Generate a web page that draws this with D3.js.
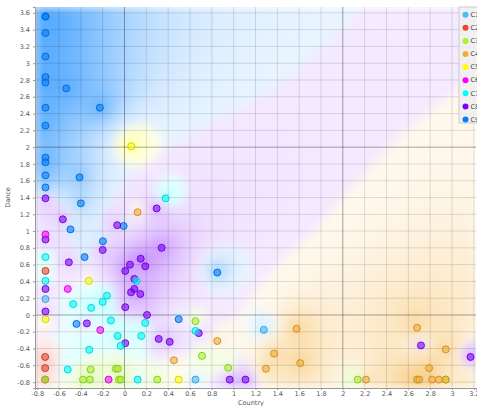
<!DOCTYPE html>
<html lang="en">
<head>
	<meta charset="utf-8">
	<title>Country vs Dance</title>
	<script src="https://d3js.org/d3.v7.min.js"></script>
	<style>
		body { margin: 0; background: #fff; }
		text { font-family: "DejaVu Sans", sans-serif; }
	</style>
</head>
<body>
	<div id="chart"></div>
	<script>
		// class names and their colours
		let classNames = ["C1", "C2", "C3", "C4", "C5", "C6", "C7", "C8", "C9"];
		let classColors = ["#46befa", "#ed462f", "#aaf22b", "#f5ae32", "#ffff00", "#ff00ff", "#00ffff", "#8000ff", "#0080ff"];

		// points: Country (x), Dance (y) and class index
		let country = [
			-0.724, -0.724, -0.724, -0.724, -0.724, -0.724, -0.534, -0.724, -0.226, -0.724, -0.724, -0.724, -0.724, -0.412, -0.724, -0.40, -0.495, -0.008, -0.198, -0.366, -0.44, 0.496, 0.85,
			0.062, -0.327, -0.724, 0.496,
			-0.724, 0.294, -0.565, -0.067, -0.724, -0.2, 0.34, -0.51, 0.148, 0.05, 0.19, 0.007, 0.09, -0.724, 0.09, 0.06, 0.145, 0.007, -0.724, 0.206, -0.345, 0.68, 0.313, 0.414, 0.007, 0.964, 1.108, 2.716, 3.17,
			-0.724, -0.52, -0.222, -0.146,
			-0.724, -0.727, -0.727, -0.727,
			-0.724, 0.65, 1.276,
			0.377, -0.724, -0.724, 0.11, -0.16, -0.2, -0.47, -0.305, -0.125, 0.19, 0.65, -0.063, 0.153, -0.036, -0.323, -0.52, 0.12,
			-0.31, -0.08, -0.06, -0.38, -0.317, -0.05, -0.033, 0.30, -0.727, 0.65, 0.71, 0.95, 2.136, 2.943,
			0.12, 0.85, 0.453, 1.37, 1.576, 1.61, 1.295, 2.68, 2.943, 2.79, 2.212, 2.68, 2.70, 2.817, 2.88, 2.943
		];
		let dance = [
			3.557, 3.557, 3.36, 3.08, 2.835, 2.77, 2.70, 2.47, 2.47, 2.256, 1.875, 1.82, 1.664, 1.64, 1.52, 1.33, 1.02, 1.06, 0.879, 0.69, -0.106, -0.05, 0.506,
			2.01, 0.406, -0.05, -0.77,
			1.39, 1.27, 1.14, 1.07, 0.90, 0.775, 0.80, 0.628, 0.67, 0.60, 0.58, 0.525, 0.43, 0.31, 0.31, 0.27, 0.25, 0.093, 0.042, 0.0, -0.10, -0.216, -0.285, -0.32, -0.336, -0.77, -0.77, -0.363, -0.5,
			0.96, 0.31, -0.18, -0.77,
			0.525, -0.5, -0.633, -0.77,
			0.19, -0.77, -0.177,
			1.39, 0.69, 0.406, 0.406, 0.23, 0.156, 0.13, 0.085, -0.065, -0.094, -0.19, -0.25, -0.25, -0.368, -0.415, -0.65, -0.77,
			-0.65, -0.64, -0.64, -0.77, -0.77, -0.77, -0.77, -0.77, -0.77, -0.074, -0.487, -0.63, -0.77, -0.77,
			1.224, -0.31, -0.54, -0.46, -0.165, -0.574, -0.64, -0.153, -0.41, -0.633, -0.77, -0.77, -0.77, -0.77, -0.77, -0.77
		];
		let pointClass = [
			8, 8, 8, 8, 8, 8, 8, 8, 8, 8, 8, 8, 8, 8, 8, 8, 8, 8, 8, 8, 8, 8, 8,
			4, 4, 4, 4,
			7, 7, 7, 7, 7, 7, 7, 7, 7, 7, 7, 7, 7, 7, 7, 7, 7, 7, 7, 7, 7, 7, 7, 7, 7, 7, 7, 7, 7,
			5, 5, 5, 5,
			1, 1, 1, 1,
			0, 0, 0,
			6, 6, 6, 6, 6, 6, 6, 6, 6, 6, 6, 6, 6, 6, 6, 6, 6,
			2, 2, 2, 2, 2, 2, 2, 2, 2, 2, 2, 2, 2, 2,
			3, 3, 3, 3, 3, 3, 3, 3, 3, 3, 3, 3, 3, 3, 3, 3
		];
		let xTicks = d3.range(-0.8, 3.21, 0.2).map(v => Math.round(v * 10) / 10);
		let yTicks = d3.range(-0.8, 3.61, 0.2).map(v => Math.round(v * 10) / 10);

		let points = country.map((c, i) => ({ x: c, y: dance[i], c: pointClass[i] }));

		let width = 477;
		let height = 406;
		let pLeft = 35, pRight = 476, pTop = 7, pBottom = 388;

		let x = d3.scaleLinear().domain([-0.82, 3.22]).range([pLeft, pRight]);
		let y = d3.scaleLinear().domain([-0.87, 3.67]).range([pBottom, pTop]);

		let svg = d3.select("#chart")
			.append("svg")
			.attr("width", width)
			.attr("height", height);

		// class colour regions: every point votes with inverse distance weight,
		// the winning class tints the cell, stronger when it wins clearly
		let step = 2;
		let gw = Math.ceil((pRight - pLeft) / step);
		let gh = Math.ceil((pBottom - pTop) / step);
		let canvas = document.createElement("canvas");
		canvas.width = gw;
		canvas.height = gh;
		let ctx = canvas.getContext("2d");
		let img = ctx.createImageData(gw, gh);
		let rgb = classColors.map(c => d3.rgb(c));
		let px = points.map(p => [x(p.x), y(p.y)]);
		for (let j = 0; j < gh; j++) {
			for (let i = 0; i < gw; i++) {
				let cx = pLeft + i * step + step / 2;
				let cy = pTop + j * step + step / 2;
				let wsum = 0;
				let share = new Array(9).fill(0);
				for (let p = 0; p < px.length; p++) {
					let d = Math.hypot(px[p][0] - cx, px[p][1] - cy);
					let w = 1 / Math.pow(d + 18, 3);
					wsum += w;
					share[points[p].c] += w;
				}
				let best = d3.maxIndex(share);
				let s = share[best] / wsum;
				let a = 0.06 + 0.62 * Math.pow(s, 2.5);
				let col = rgb[best];
				let o = (j * gw + i) * 4;
				img.data[o] = 255 * (1 - a) + col.r * a;
				img.data[o + 1] = 255 * (1 - a) + col.g * a;
				img.data[o + 2] = 255 * (1 - a) + col.b * a;
				img.data[o + 3] = 255;
			}
		}
		ctx.putImageData(img, 0, 0);
		// soften the cell edges
		let soft = document.createElement("canvas");
		soft.width = gw;
		soft.height = gh;
		let sctx = soft.getContext("2d");
		sctx.fillStyle = "#fff";
		sctx.fillRect(0, 0, gw, gh);
		sctx.filter = "blur(2px)";
		sctx.drawImage(canvas, 0, 0);
		svg.append("image")
			.attr("x", pLeft)
			.attr("y", pTop)
			.attr("width", pRight - pLeft)
			.attr("height", pBottom - pTop)
			.attr("preserveAspectRatio", "none")
			.attr("href", soft.toDataURL());

		// grid lines
		svg.append("g").selectAll("line")
			.data(xTicks)
			.enter()
			.append("line")
			.attr("x1", d => x(d)).attr("x2", d => x(d))
			.attr("y1", pTop).attr("y2", pBottom)
			.attr("stroke", d => (d === 0 || d === 2) ? "rgba(0,0,0,0.35)" : "rgba(0,0,0,0.12)")
			.attr("stroke-width", 1);
		svg.append("g").selectAll("line")
			.data(yTicks)
			.enter()
			.append("line")
			.attr("x1", pLeft).attr("x2", pRight)
			.attr("y1", d => y(d)).attr("y2", d => y(d))
			.attr("stroke", d => (d === 0 || d === 2) ? "rgba(0,0,0,0.35)" : "rgba(0,0,0,0.12)")
			.attr("stroke-width", 1);

		// axes
		svg.append("g")
			.attr("transform", "translate(0," + pBottom + ")")
			.call(d3.axisBottom(x).tickValues(xTicks).tickSize(2).tickFormat(d => String(d)))
			.call(g => g.select(".domain").attr("stroke", "#999"))
			.call(g => g.selectAll(".tick line").attr("stroke", "#999"))
			.call(g => g.selectAll("text").attr("fill", "#555").style("font-size", "6.5px").attr("y", 3));
		svg.append("g")
			.attr("transform", "translate(" + pLeft + ",0)")
			.call(d3.axisLeft(y).tickValues(yTicks).tickSize(2).tickFormat(d => String(d)))
			.call(g => g.select(".domain").attr("stroke", "#999"))
			.call(g => g.selectAll(".tick line").attr("stroke", "#999"))
			.call(g => g.selectAll("text").attr("fill", "#555").style("font-size", "6.5px"));

		// axis titles
		svg.append("text")
			.attr("x", 251)
			.attr("y", 405)
			.attr("text-anchor", "middle")
			.attr("fill", "#555")
			.style("font-size", "6.5px")
			.text("Country");
		svg.append("text")
			.attr("transform", "translate(10," + ((pTop + pBottom) / 2) + ") rotate(-90)")
			.attr("text-anchor", "middle")
			.attr("fill", "#555")
			.style("font-size", "6.5px")
			.text("Dance");

		// points
		svg.append("g").selectAll("circle")
			.data(points)
			.enter()
			.append("circle")
			.attr("cx", d => x(d.x))
			.attr("cy", d => y(d.y))
			.attr("r", 3.5)
			.attr("fill", d => classColors[d.c])
			.attr("fill-opacity", 0.6)
			.attr("stroke", d => d3.rgb(classColors[d.c]).darker(0.6))
			.attr("stroke-width", 0.9);

		// legend
		let legend = svg.append("g").attr("transform", "translate(459,7)");
		legend.append("rect")
			.attr("width", 20)
			.attr("height", 116)
			.attr("fill", "rgba(240,240,240,0.85)")
			.attr("stroke", "#ccc");
		let item = legend.selectAll("g.item")
			.data(classNames)
			.enter()
			.append("g")
			.attr("class", "item")
			.attr("transform", (d, i) => "translate(6.5," + (7.7 + i * 13.1) + ")");
		item.append("circle")
			.attr("r", 3)
			.attr("fill", (d, i) => classColors[i]);
		item.append("text")
			.attr("x", 5)
			.attr("dy", "0.35em")
			.attr("fill", "#444")
			.style("font-size", "6.5px")
			.text(d => d);
	</script>
</body>
</html>
